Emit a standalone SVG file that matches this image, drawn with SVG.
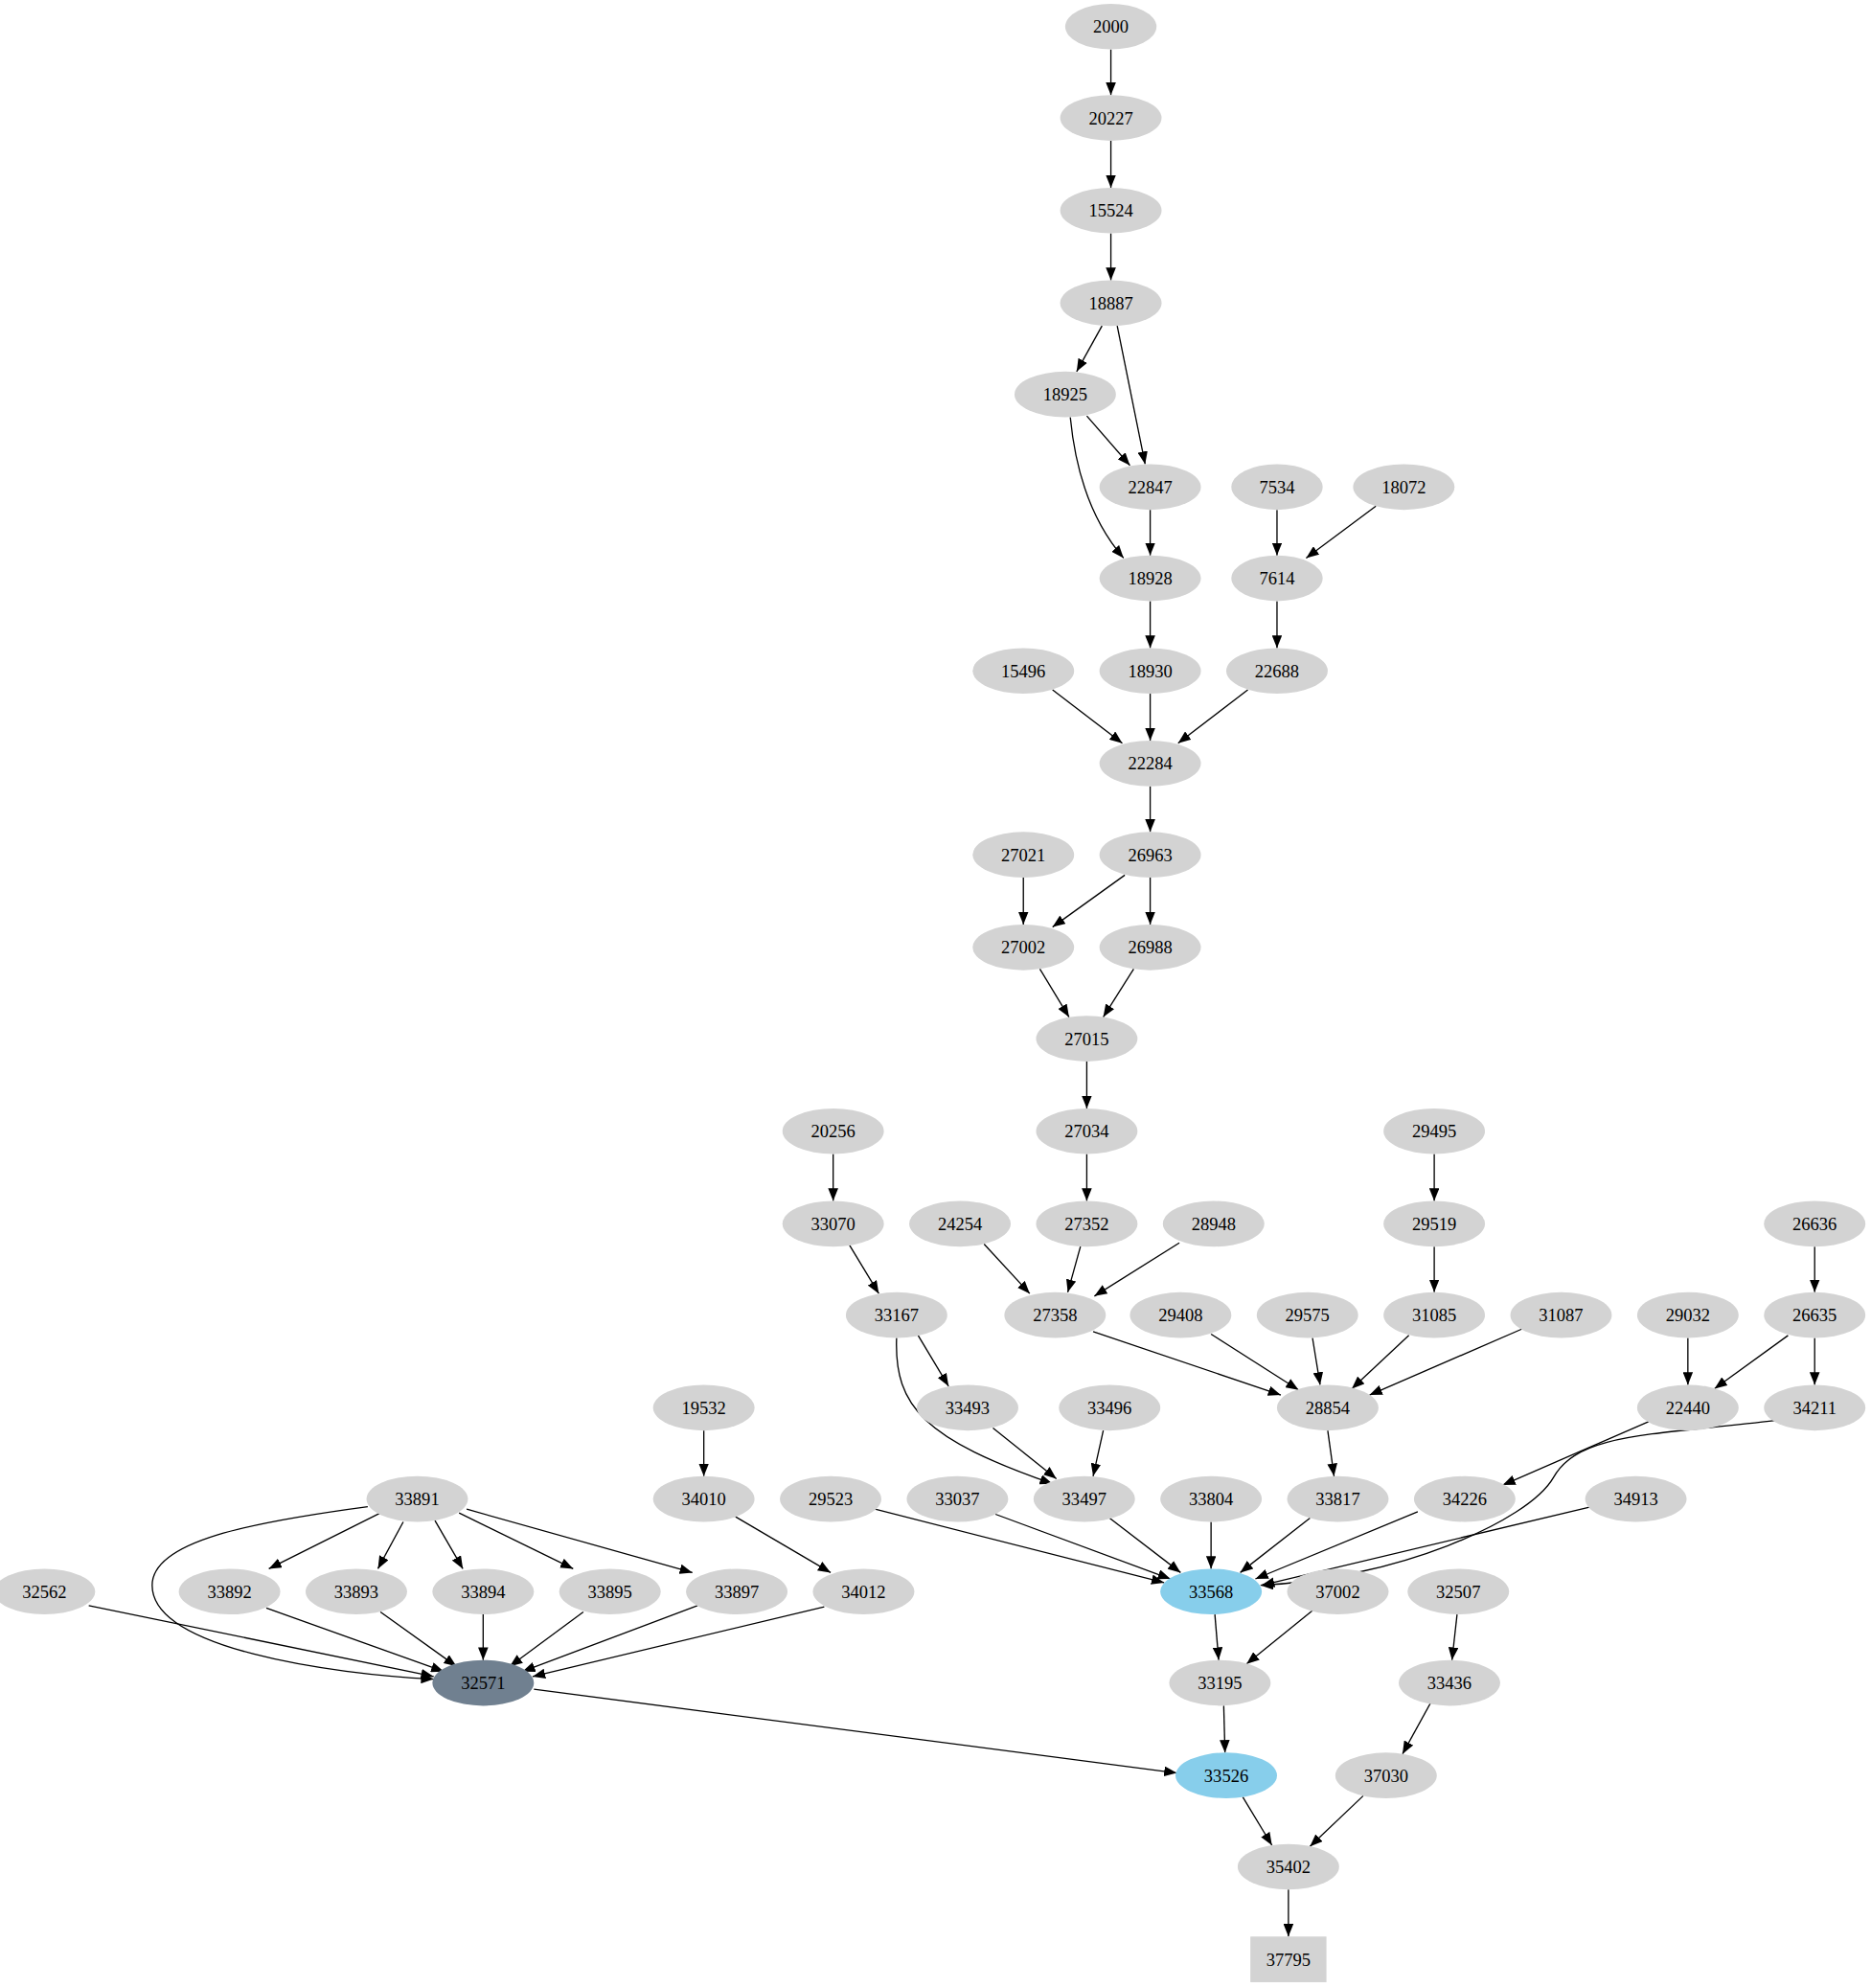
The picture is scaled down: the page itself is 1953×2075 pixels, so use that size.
<svg xmlns="http://www.w3.org/2000/svg" width="1953" height="2075" viewBox="0 0 1953 2075">
<style>
.n ellipse,.n rect{fill:#d3d3d3}
.b ellipse{fill:#87ceeb}
.s ellipse{fill:#708090}
text{font-family:"Liberation Serif",serif;font-size:14px;text-anchor:middle;fill:#000}
#edges path,#edges line{stroke:#000;stroke-width:1;fill:none;marker-end:url(#ah)}
</style>
<defs><marker id="ah" markerUnits="userSpaceOnUse" markerWidth="10" markerHeight="8" refX="10" refY="4" orient="auto"><path d="M0,0L10,4L0,8z" fill="#000"/></marker></defs>
<rect width="1953" height="2075" fill="#fff"/>
<g transform="scale(1.3237)">
<g id="edges">
<line x1="876" y1="39" x2="876" y2="75"/><line x1="876" y1="111" x2="876" y2="148"/><line x1="876" y1="184" x2="876" y2="221"/>
<line x1="869" y1="257" x2="849" y2="293"/><line x1="881" y1="257" x2="903" y2="366"/><line x1="857" y1="328" x2="891" y2="367"/>
<path d="M844,329 C848,370 860,410 886,440"/>
<line x1="907" y1="402" x2="907" y2="438"/><line x1="1007" y1="402" x2="1007" y2="438"/><line x1="1085" y1="399" x2="1030" y2="440"/>
<line x1="907" y1="474" x2="907" y2="511"/><line x1="1007" y1="474" x2="1007" y2="511"/>
<line x1="830" y1="544" x2="885" y2="586"/><line x1="907" y1="547" x2="907" y2="584"/><line x1="984" y1="544" x2="929" y2="586"/>
<line x1="907" y1="620" x2="907" y2="656"/><line x1="807" y1="692" x2="807" y2="729"/><line x1="887" y1="690" x2="830" y2="731"/><line x1="907" y1="692" x2="907" y2="729"/>
<line x1="820" y1="764" x2="843" y2="802"/><line x1="894" y1="764" x2="870" y2="802"/><line x1="857" y1="837" x2="857" y2="874"/>
<line x1="657" y1="910" x2="657" y2="947"/><line x1="857" y1="910" x2="857" y2="947"/><line x1="1131" y1="910" x2="1131" y2="947"/>
<line x1="670" y1="982" x2="693" y2="1020"/><line x1="776" y1="981" x2="812" y2="1020"/><line x1="852" y1="983" x2="842" y2="1019"/><line x1="930" y1="980" x2="863" y2="1022"/>
<line x1="1131" y1="983" x2="1131" y2="1019"/><line x1="1431" y1="983" x2="1431" y2="1019"/>
<line x1="724" y1="1053" x2="748" y2="1093"/><path d="M707,1055 C705,1110 730,1135 830,1170"/>
<line x1="862" y1="1050" x2="1010" y2="1100"/><line x1="955" y1="1052" x2="1024" y2="1096"/><line x1="1035" y1="1055" x2="1041" y2="1092"/><line x1="1111" y1="1053" x2="1066" y2="1095"/><line x1="1200" y1="1048" x2="1080" y2="1100"/>
<line x1="1331" y1="1055" x2="1331" y2="1092"/><line x1="1410" y1="1053" x2="1352" y2="1095"/><line x1="1431" y1="1055" x2="1431" y2="1092"/>
<line x1="555" y1="1128" x2="555" y2="1164"/><line x1="783" y1="1126" x2="833" y2="1166"/><line x1="870" y1="1128" x2="862" y2="1164"/><line x1="1047" y1="1128" x2="1052" y2="1164"/>
<line x1="1300" y1="1121" x2="1185" y2="1171"/>
<path d="M1400,1120 C1300,1132 1245,1130 1225,1165 C1205,1200 1100,1245 994,1250"/>
<line x1="300" y1="1193" x2="212" y2="1237"/><line x1="318" y1="1200" x2="298" y2="1237"/><line x1="343" y1="1199" x2="365" y2="1237"/><line x1="362" y1="1193" x2="452" y2="1237"/><line x1="368" y1="1190" x2="546" y2="1240"/>
<path d="M290,1188 C200,1200 120,1215 120,1250 C120,1300 260,1320 342,1324"/>
<line x1="580" y1="1196" x2="655" y2="1240"/>
<line x1="690" y1="1190" x2="918" y2="1248"/><line x1="785" y1="1194" x2="923" y2="1245"/><line x1="875" y1="1197" x2="931" y2="1240"/><line x1="955" y1="1200" x2="955" y2="1237"/><line x1="1033" y1="1197" x2="978" y2="1240"/><line x1="1118" y1="1192" x2="990" y2="1245"/><line x1="1255" y1="1188" x2="995" y2="1250"/>
<line x1="70" y1="1266" x2="342" y2="1322"/><line x1="210" y1="1268" x2="350" y2="1318"/><line x1="300" y1="1271" x2="360" y2="1314"/><line x1="381" y1="1273" x2="381" y2="1309"/><line x1="460" y1="1271" x2="402" y2="1314"/><line x1="550" y1="1266" x2="412" y2="1318"/><line x1="650" y1="1267" x2="420" y2="1322"/>
<line x1="958" y1="1273" x2="961" y2="1309"/><line x1="1035" y1="1270" x2="983" y2="1312"/><line x1="1149" y1="1273" x2="1145" y2="1309"/>
<line x1="421" y1="1332" x2="928" y2="1398"/><line x1="965" y1="1345" x2="966" y2="1382"/><line x1="1128" y1="1343" x2="1106" y2="1383"/>
<line x1="980" y1="1417" x2="1003" y2="1455"/><line x1="1075" y1="1416" x2="1033" y2="1456"/><line x1="1016" y1="1490" x2="1016" y2="1527"/>
</g>
<g id="n2000" class="n"><ellipse cx="876" cy="21" rx="36" ry="18"/><text x="876" y="26">2000</text></g>
<g id="n20227" class="n"><ellipse cx="876" cy="93" rx="40" ry="18"/><text x="876" y="98">20227</text></g>
<g id="n15524" class="n"><ellipse cx="876" cy="166" rx="40" ry="18"/><text x="876" y="171">15524</text></g>
<g id="n18887" class="n"><ellipse cx="876" cy="239" rx="40" ry="18"/><text x="876" y="244">18887</text></g>
<g id="n18925" class="n"><ellipse cx="840" cy="311" rx="40" ry="18"/><text x="840" y="316">18925</text></g>
<g id="n22847" class="n"><ellipse cx="907" cy="384" rx="40" ry="18"/><text x="907" y="389">22847</text></g>
<g id="n7534" class="n"><ellipse cx="1007" cy="384" rx="36" ry="18"/><text x="1007" y="389">7534</text></g>
<g id="n18072" class="n"><ellipse cx="1107" cy="384" rx="40" ry="18"/><text x="1107" y="389">18072</text></g>
<g id="n18928" class="n"><ellipse cx="907" cy="456" rx="40" ry="18"/><text x="907" y="461">18928</text></g>
<g id="n7614" class="n"><ellipse cx="1007" cy="456" rx="36" ry="18"/><text x="1007" y="461">7614</text></g>
<g id="n15496" class="n"><ellipse cx="807" cy="529" rx="40" ry="18"/><text x="807" y="534">15496</text></g>
<g id="n18930" class="n"><ellipse cx="907" cy="529" rx="40" ry="18"/><text x="907" y="534">18930</text></g>
<g id="n22688" class="n"><ellipse cx="1007" cy="529" rx="40" ry="18"/><text x="1007" y="534">22688</text></g>
<g id="n22284" class="n"><ellipse cx="907" cy="602" rx="40" ry="18"/><text x="907" y="607">22284</text></g>
<g id="n27021" class="n"><ellipse cx="807" cy="674" rx="40" ry="18"/><text x="807" y="679">27021</text></g>
<g id="n26963" class="n"><ellipse cx="907" cy="674" rx="40" ry="18"/><text x="907" y="679">26963</text></g>
<g id="n27002" class="n"><ellipse cx="807" cy="747" rx="40" ry="18"/><text x="807" y="752">27002</text></g>
<g id="n26988" class="n"><ellipse cx="907" cy="747" rx="40" ry="18"/><text x="907" y="752">26988</text></g>
<g id="n27015" class="n"><ellipse cx="857" cy="819" rx="40" ry="18"/><text x="857" y="824">27015</text></g>
<g id="n20256" class="n"><ellipse cx="657" cy="892" rx="40" ry="18"/><text x="657" y="897">20256</text></g>
<g id="n27034" class="n"><ellipse cx="857" cy="892" rx="40" ry="18"/><text x="857" y="897">27034</text></g>
<g id="n29495" class="n"><ellipse cx="1131" cy="892" rx="40" ry="18"/><text x="1131" y="897">29495</text></g>
<g id="n33070" class="n"><ellipse cx="657" cy="965" rx="40" ry="18"/><text x="657" y="970">33070</text></g>
<g id="n24254" class="n"><ellipse cx="757" cy="965" rx="40" ry="18"/><text x="757" y="970">24254</text></g>
<g id="n27352" class="n"><ellipse cx="857" cy="965" rx="40" ry="18"/><text x="857" y="970">27352</text></g>
<g id="n28948" class="n"><ellipse cx="957" cy="965" rx="40" ry="18"/><text x="957" y="970">28948</text></g>
<g id="n29519" class="n"><ellipse cx="1131" cy="965" rx="40" ry="18"/><text x="1131" y="970">29519</text></g>
<g id="n26636" class="n"><ellipse cx="1431" cy="965" rx="40" ry="18"/><text x="1431" y="970">26636</text></g>
<g id="n33167" class="n"><ellipse cx="707" cy="1037" rx="40" ry="18"/><text x="707" y="1042">33167</text></g>
<g id="n27358" class="n"><ellipse cx="832" cy="1037" rx="40" ry="18"/><text x="832" y="1042">27358</text></g>
<g id="n29408" class="n"><ellipse cx="931" cy="1037" rx="40" ry="18"/><text x="931" y="1042">29408</text></g>
<g id="n29575" class="n"><ellipse cx="1031" cy="1037" rx="40" ry="18"/><text x="1031" y="1042">29575</text></g>
<g id="n31085" class="n"><ellipse cx="1131" cy="1037" rx="40" ry="18"/><text x="1131" y="1042">31085</text></g>
<g id="n31087" class="n"><ellipse cx="1231" cy="1037" rx="40" ry="18"/><text x="1231" y="1042">31087</text></g>
<g id="n29032" class="n"><ellipse cx="1331" cy="1037" rx="40" ry="18"/><text x="1331" y="1042">29032</text></g>
<g id="n26635" class="n"><ellipse cx="1431" cy="1037" rx="40" ry="18"/><text x="1431" y="1042">26635</text></g>
<g id="n19532" class="n"><ellipse cx="555" cy="1110" rx="40" ry="18"/><text x="555" y="1115">19532</text></g>
<g id="n33493" class="n"><ellipse cx="763" cy="1110" rx="40" ry="18"/><text x="763" y="1115">33493</text></g>
<g id="n33496" class="n"><ellipse cx="875" cy="1110" rx="40" ry="18"/><text x="875" y="1115">33496</text></g>
<g id="n28854" class="n"><ellipse cx="1047" cy="1110" rx="40" ry="18"/><text x="1047" y="1115">28854</text></g>
<g id="n22440" class="n"><ellipse cx="1331" cy="1110" rx="40" ry="18"/><text x="1331" y="1115">22440</text></g>
<g id="n34211" class="n"><ellipse cx="1431" cy="1110" rx="40" ry="18"/><text x="1431" y="1115">34211</text></g>
<g id="n33891" class="n"><ellipse cx="329" cy="1182" rx="40" ry="18"/><text x="329" y="1187">33891</text></g>
<g id="n34010" class="n"><ellipse cx="555" cy="1182" rx="40" ry="18"/><text x="555" y="1187">34010</text></g>
<g id="n29523" class="n"><ellipse cx="655" cy="1182" rx="40" ry="18"/><text x="655" y="1187">29523</text></g>
<g id="n33037" class="n"><ellipse cx="755" cy="1182" rx="40" ry="18"/><text x="755" y="1187">33037</text></g>
<g id="n33497" class="n"><ellipse cx="855" cy="1182" rx="40" ry="18"/><text x="855" y="1187">33497</text></g>
<g id="n33804" class="n"><ellipse cx="955" cy="1182" rx="40" ry="18"/><text x="955" y="1187">33804</text></g>
<g id="n33817" class="n"><ellipse cx="1055" cy="1182" rx="40" ry="18"/><text x="1055" y="1187">33817</text></g>
<g id="n34226" class="n"><ellipse cx="1155" cy="1182" rx="40" ry="18"/><text x="1155" y="1187">34226</text></g>
<g id="n34913" class="n"><ellipse cx="1290" cy="1182" rx="40" ry="18"/><text x="1290" y="1187">34913</text></g>
<g id="n32562" class="n"><ellipse cx="35" cy="1255" rx="40" ry="18"/><text x="35" y="1260">32562</text></g>
<g id="n33892" class="n"><ellipse cx="181" cy="1255" rx="40" ry="18"/><text x="181" y="1260">33892</text></g>
<g id="n33893" class="n"><ellipse cx="281" cy="1255" rx="40" ry="18"/><text x="281" y="1260">33893</text></g>
<g id="n33894" class="n"><ellipse cx="381" cy="1255" rx="40" ry="18"/><text x="381" y="1260">33894</text></g>
<g id="n33895" class="n"><ellipse cx="481" cy="1255" rx="40" ry="18"/><text x="481" y="1260">33895</text></g>
<g id="n33897" class="n"><ellipse cx="581" cy="1255" rx="40" ry="18"/><text x="581" y="1260">33897</text></g>
<g id="n34012" class="n"><ellipse cx="681" cy="1255" rx="40" ry="18"/><text x="681" y="1260">34012</text></g>
<g id="n33568" class="n b"><ellipse cx="955" cy="1255" rx="40" ry="18"/><text x="955" y="1260">33568</text></g>
<g id="n37002" class="n"><ellipse cx="1055" cy="1255" rx="40" ry="18"/><text x="1055" y="1260">37002</text></g>
<g id="n32507" class="n"><ellipse cx="1150" cy="1255" rx="40" ry="18"/><text x="1150" y="1260">32507</text></g>
<g id="n32571" class="n s"><ellipse cx="381" cy="1327" rx="40" ry="18"/><text x="381" y="1332">32571</text></g>
<g id="n33195" class="n"><ellipse cx="962" cy="1327" rx="40" ry="18"/><text x="962" y="1332">33195</text></g>
<g id="n33436" class="n"><ellipse cx="1143" cy="1327" rx="40" ry="18"/><text x="1143" y="1332">33436</text></g>
<g id="n33526" class="n b"><ellipse cx="967" cy="1400" rx="40" ry="18"/><text x="967" y="1405">33526</text></g>
<g id="n37030" class="n"><ellipse cx="1093" cy="1400" rx="40" ry="18"/><text x="1093" y="1405">37030</text></g>
<g id="n35402" class="n"><ellipse cx="1016" cy="1472" rx="40" ry="18"/><text x="1016" y="1477">35402</text></g>
<g id="n37795" class="n"><rect x="986" y="1527" width="60" height="36"/><text x="1016" y="1550">37795</text></g>
</g>
</svg>
